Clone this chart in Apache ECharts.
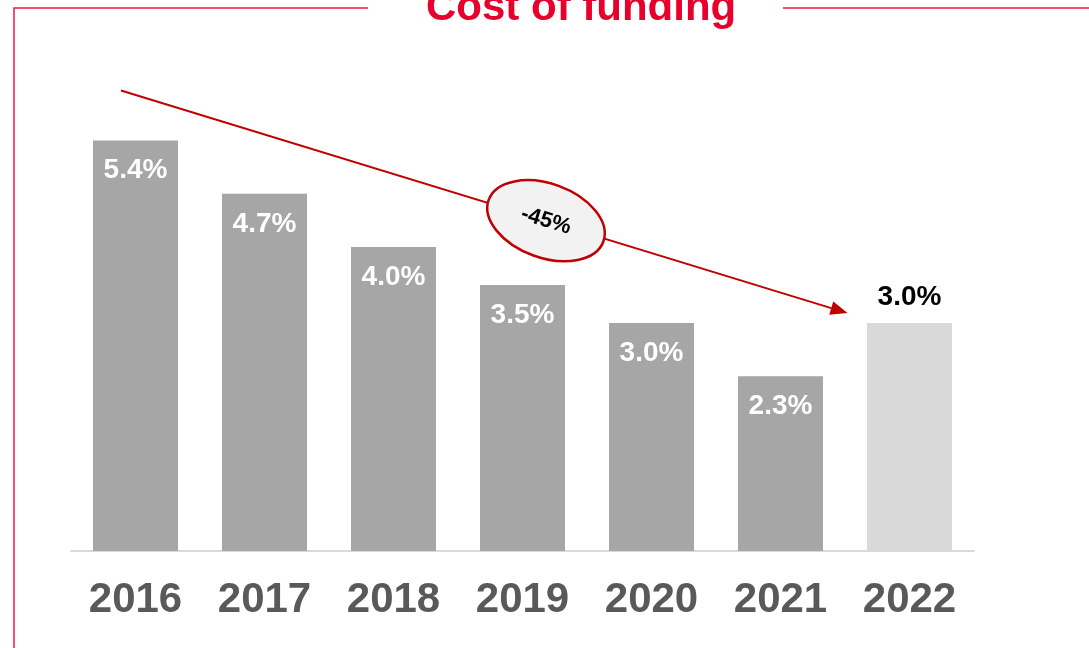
<!DOCTYPE html>
<html>
<head>
<meta charset="utf-8">
<script src="https://cdn.jsdelivr.net/npm/echarts@6/dist/echarts.min.js"></script>
<style>
html, body { margin: 0; padding: 0; background: #fff; }
#chart { width: 1089px; height: 648px; }
</style>
</head>
<body>
<div id="chart"></div>
<script>
// data
const years = ['2016', '2017', '2018', '2019', '2020', '2021', '2022'];
const costOfFunding = [5.4, 4.7, 4.0, 3.5, 3.0, 2.3, 3.0];
const changeLabel = '-45%';
const chartTitle = 'Cost of funding';

const FONT = '"Liberation Sans", Arial, sans-serif';
const RED = '#e8002c';
const DARK_RED = '#c00000';

const chart = echarts.init(document.getElementById('chart'));

const barData = costOfFunding.map((v, i) => {
    const last = i === costOfFunding.length - 1;
    return {
        value: v,
        itemStyle: { color: last ? '#d9d9d9' : '#a6a6a6' },
        label: last
            ? { position: 'top', distance: 12, color: '#000' }
            : { position: 'insideTop', distance: 16, color: '#fff' },
    };
});

chart.setOption({
    animation: false,
    title: {
        text: chartTitle,
        left: 421,
        top: -18,
        textStyle: { color: RED, fontSize: 42, fontWeight: 'bold', fontFamily: FONT },
    },
    grid: { left: 71, right: 115, top: 95, bottom: 97, containLabel: false },
    xAxis: {
        type: 'category',
        data: years,
        axisLine: { lineStyle: { color: '#d9d9d9', width: 2 } },
        axisTick: { show: false },
        axisLabel: { color: '#595959', fontSize: 42, fontWeight: 'bold', fontFamily: FONT, margin: 28 },
    },
    yAxis: {
        type: 'value',
        min: 0,
        max: 6,
        show: false,
        splitLine: { show: false },
    },
    series: [
        {
            type: 'bar',
            data: barData,
            barWidth: 85,
            label: {
                show: true,
                formatter: (p) => p.value.toFixed(1) + '%',
                fontSize: 28,
                fontWeight: 'bold',
                fontFamily: FONT,
            },
        },
    ],
});

// 边框和箭头注释
const start0 = chart.convertToPixel({ gridIndex: 0 }, [0, 6.06]);
const end0 = chart.convertToPixel({ gridIndex: 0 }, [6, 3.13]);
const start = [start0[0] - 14.5, start0[1]];
const tip = [end0[0] - 62, end0[1]];
const dx = tip[0] - start[0];
const dy = tip[1] - start[1];
const len = Math.sqrt(dx * dx + dy * dy);
const ux = dx / len, uy = dy / len;
const headLen = 17, headHalf = 7;
const base = [tip[0] - ux * headLen, tip[1] - uy * headLen];
const angle = Math.atan2(dy, dx);
const mid = [start[0] + dx * 0.585, start[1] + dy * 0.585];

chart.setOption({
    graphic: [
        {
            type: 'polyline',
            shape: { points: [[368, 8], [14, 8], [14, 648]] },
            style: { stroke: '#f0193f', lineWidth: 1.5, fill: null },
        },
        {
            type: 'line',
            shape: { x1: 783, y1: 8, x2: 1089, y2: 8 },
            style: { stroke: '#f0193f', lineWidth: 1.5 },
        },
        {
            type: 'line',
            shape: { x1: start[0], y1: start[1], x2: base[0], y2: base[1] },
            style: { stroke: DARK_RED, lineWidth: 2 },
            z: 10,
        },
        {
            type: 'polygon',
            shape: {
                points: [
                    tip,
                    [base[0] - uy * headHalf, base[1] + ux * headHalf],
                    [base[0] + uy * headHalf, base[1] - ux * headHalf],
                ],
            },
            style: { fill: DARK_RED },
            z: 10,
        },
        {
            type: 'ellipse',
            x: mid[0],
            y: mid[1],
            rotation: -angle - 0.05,
            shape: { cx: 0, cy: 0, rx: 61, ry: 37 },
            style: { fill: '#f2f2f2', stroke: DARK_RED, lineWidth: 2.5 },
            z: 11,
        },
        {
            type: 'text',
            x: mid[0],
            y: mid[1],
            rotation: -angle,
            style: {
                text: changeLabel,
                align: 'center',
                verticalAlign: 'middle',
                fill: '#000',
                fontSize: 22,
                fontWeight: 'bold',
                fontFamily: FONT,
            },
            z: 12,
        },
    ],
});
</script>
</body>
</html>
